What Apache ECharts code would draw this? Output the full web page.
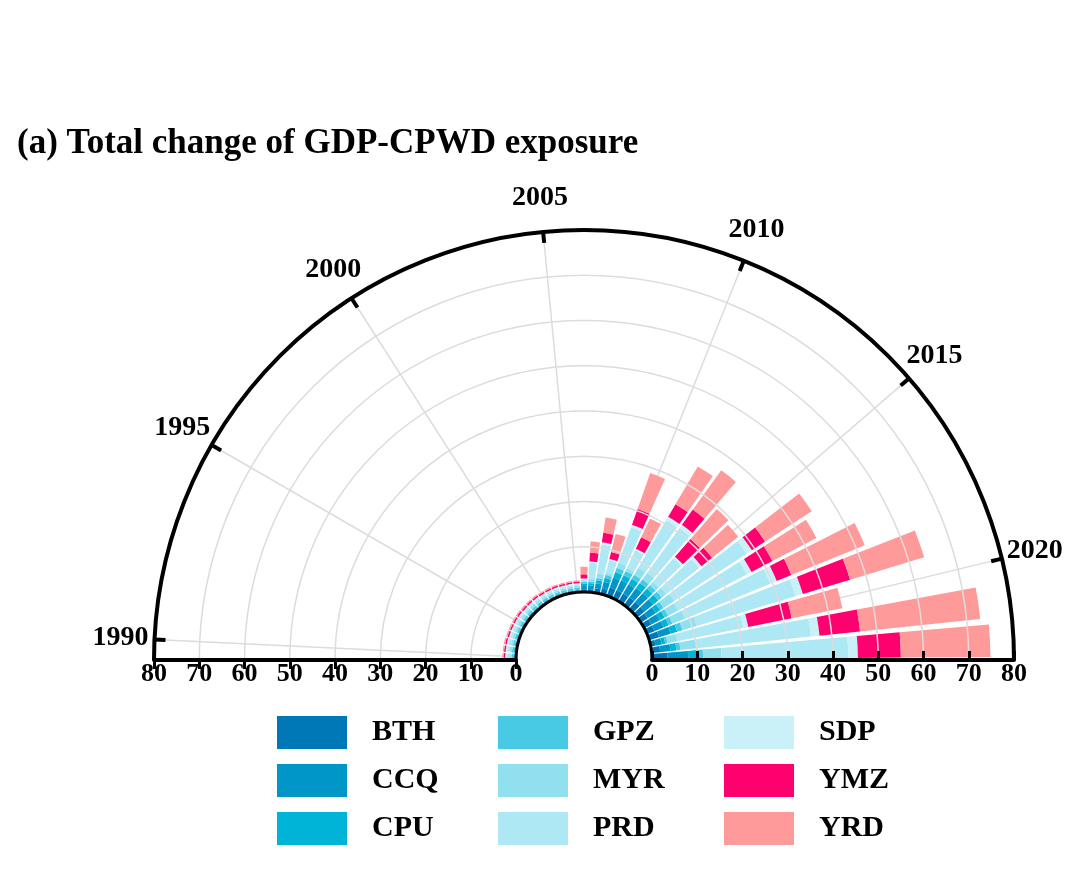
<!DOCTYPE html>
<html>
<head>
<meta charset="utf-8">
<script src="https://cdn.jsdelivr.net/npm/echarts@6/dist/echarts.min.js"></script>
<style>
  html,body{margin:0;padding:0;background:#fff;}
  #chart{width:1080px;height:891px;}
</style>
</head>
<body>
<div id="chart"></div>
<script>
// years on the angle axis, 1990 at the left end, 2022 at the right end
const years = ['1990','1991','1992','1993','1994','1995','1996','1997','1998','1999','2000',
  '2001','2002','2003','2004','2005','2006','2007','2008','2009','2010',
  '2011','2012','2013','2014','2015','2016','2017','2018','2019','2020','2021','2022'];
const yearTicks = ['1990','1995','2000','2005','2010','2015','2020'];
const radiusTicks = [0,10,20,30,40,50,60,70,80];

// stacked exposure per urban agglomeration (inner -> outer)
const BTH = [0.2,0.2,0.2,0.2,0.2,0.2,0.2,0.2,0.2,0.2,0.2,0.2,0.2,0.2,0.2,0.2,
  0.6,0.7,1.0,1.3,2.0,2.0,2.0,2.1,2.1,2.1,1.8,1.8,1.8,2.3,1.1,1.9,3.4];
const CCQ = [0.2,0.2,0.2,0.2,0.2,0.2,0.2,0.2,0.2,0.2,0.2,0.2,0.2,0.2,0.2,0.2,
  0.7,0.8,1.1,1.5,2.3,2.4,2.4,2.5,2.5,2.5,2.1,2.1,2.2,2.7,1.4,2.3,4.6];
const CPU = [0.2,0.2,0.2,0.2,0.2,0.2,0.2,0.2,0.2,0.2,0.2,0.2,0.2,0.2,0.2,0.2,
  0.5,0.5,0.7,0.9,1.3,1.3,1.4,1.4,1.4,1.4,1.2,1.2,1.2,1.5,0.8,1.3,2.0];
const GPZ = [0.4,0.4,0.4,0.4,0.4,0.4,0.4,0.4,0.4,0.4,0.4,0.4,0.4,0.4,0.4,0.4,
  0.4,0.4,0.5,0.7,1.0,1.0,1.0,1.0,1.0,1.0,0.9,0.9,0.9,1.2,0.5,0.9,1.3];
const MYR = [0.5,0.5,0.5,0.5,0.5,0.5,0.5,0.5,0.5,0.5,0.4,0.4,0.4,0.4,0.4,0.4,
  0.2,0.6,1.0,0.5,1.2,0.7,1.8,1.8,1.0,1.3,2.8,2.5,3.0,3.3,2.2,3.7,4.1];
const PRD = [0.6,0.6,0.6,0.5,0.5,0.5,0.5,0.4,0.4,0.4,0.4,0.4,0.4,0.3,0.3,0.3,
  0.4,3.5,6.5,2.8,8.3,4.3,12.2,12.2,6.9,9.2,19.1,17.1,20.4,22.8,14.9,25.3,28.0];
const SDP = [0.3,0.3,0.3,0.3,0.3,0.3,0.3,0.3,0.3,0.3,0.3,0.3,0.3,0.3,0.3,0.3,
  0.2,0.3,0.5,0.3,0.6,0.4,0.9,0.9,0.5,0.7,1.4,1.2,1.5,1.7,1.1,1.9,2.1];
const YMZ = [0.35,0.35,0.35,0.35,0.35,0.35,0.35,0.35,0.35,0.35,0.35,0.35,0.35,0.35,0.35,0.35,
  0.9,1.9,2.1,1.6,3.7,2.8,3.2,4.1,5.2,3.0,3.5,5.2,3.5,10.9,9.8,9.0,9.5];
const YRD = [0.3,0.3,0.3,0.3,0.3,0.3,0.3,0.3,0.3,0.3,0.3,0.3,0.3,0.3,0.3,0.3,
  1.7,2.5,3.4,4.1,8.4,4.6,9.7,10.7,8.8,7.4,12.3,11.0,17.5,17.1,11.4,26.7,19.8];

const seriesNames = ['BTH','CCQ','CPU','GPZ','MYR','PRD','SDP','YMZ','YRD'];
const seriesData = [BTH,CCQ,CPU,GPZ,MYR,PRD,SDP,YMZ,YRD];
const colors = ['#0077b6','#0096c7','#00b4d8','#48cae4','#90e0ef','#ade8f4','#caf0f8','#ff006e','#ff9a9a'];

(function(){
  const FONT = "'Liberation Serif','Times New Roman',serif";
  const CENTER = [584, 660];
  const R_IN = 68, R_OUT = 430;
  const LABEL_R = 87.5;           // year labels sit outside the arc (axis units)
  const GRID = '#dcdcdc';
  const LEGEND_X = [277, 498, 724];

  const chart = echarts.init(document.getElementById('chart'));

  const bars = seriesNames.map((n, i) => ({
    name: n, type: 'bar', coordinateSystem: 'polar', polarIndex: 0,
    stack: 'total', data: seriesData[i], barCategoryGap: '16%',
    itemStyle: {color: colors[i]}, z: 3
  }));

  const yearLabels = {
    type: 'custom', coordinateSystem: 'polar', polarIndex: 0, silent: true, z: 6,
    data: yearTicks.map(y => [LABEL_R, y]),
    renderItem: (params, api) => {
      const p = api.coord([api.value(0), api.value(1)]);
      return {
        type: 'text', x: p[0], y: p[1],
        style: {text: yearTicks[params.dataIndex], fill: '#000',
          font: `bold 28px ${FONT}`, align: 'center', verticalAlign: 'middle'}
      };
    }
  };

  const radiusAxisCommon = {
    type: 'value', min: radiusTicks[0], max: radiusTicks[radiusTicks.length-1],
    interval: radiusTicks[1] - radiusTicks[0],
    axisLine: {show: true, lineStyle: {color: '#000', width: 4}},
    axisLabel: {color: '#000', fontFamily: FONT, fontWeight: 'bold', fontSize: 26,
      align: 'center', verticalAlign: 'top'},
    z: 9
  };

  chart.setOption({
    backgroundColor: '#fff',
    animation: false,
    title: {
      text: '(a) Total change of GDP-CPWD exposure', left: 17, top: 126, padding: 0,
      textStyle: {fontFamily: FONT, fontWeight: 'bold', fontSize: 35, color: '#000'}
    },
    legend: LEGEND_X.map((x, k) => ({
      orient: 'vertical', left: x, top: 716, padding: 0,
      data: seriesNames.slice(k*3, k*3+3),
      icon: 'rect', itemWidth: 70, itemHeight: 33, itemGap: 15, selectedMode: false,
      textStyle: {fontFamily: FONT, fontWeight: 'bold', fontSize: 30, color: '#000', padding: [0,0,0,20]}
    })),
    polar: [
      {center: CENTER, radius: [R_IN, R_OUT]},   // bars + grid + left radius axis
      {center: CENTER, radius: R_OUT},           // outer black arc with year ticks
      {center: CENTER, radius: R_IN},            // inner black arc
      {center: CENTER, radius: [R_IN, R_OUT]}    // right radius axis
    ],
    angleAxis: [
      {
        polarIndex: 0, type: 'category', data: years, startAngle: 180, endAngle: 0,
        axisLine: {show: false},
        axisTick: {show: true, interval: 4, alignWithLabel: true, length: 0,
          lineStyle: {color: 'rgba(0,0,0,0)', width: 0}},
        axisLabel: {show: false},
        splitLine: {show: true, interval: 4, lineStyle: {color: GRID, width: 1.5}},
        z: 1
      },
      {
        polarIndex: 1, type: 'category', data: years, startAngle: 180, endAngle: 0,
        axisLine: {show: true, lineStyle: {color: '#000', width: 4}},
        axisTick: {show: true, inside: true, length: 11, interval: 4, alignWithLabel: true,
          lineStyle: {color: '#000', width: 4}},
        axisLabel: {show: false}, splitLine: {show: false},
        z: 20
      },
      {
        polarIndex: 2, type: 'value', min: 0, max: 1, startAngle: 180, endAngle: 0,
        axisLine: {show: true, lineStyle: {color: '#000', width: 3}},
        axisTick: {show: false}, axisLabel: {show: false}, splitLine: {show: false},
        z: 20
      },
      {polarIndex: 3, type: 'value', min: 0, max: 1, startAngle: 0, endAngle: -180, show: false}
    ],
    radiusAxis: [
      Object.assign({}, radiusAxisCommon, {
        polarIndex: 0,
        axisTick: {show: true, inside: true, length: 9, lineStyle: {color: '#000', width: 3}},
        axisLabel: Object.assign({}, radiusAxisCommon.axisLabel, {margin: 1}),
        splitLine: {show: true, lineStyle: {color: GRID, width: 1.5}}
      }),
      {polarIndex: 1, type: 'value', min: 0, max: 1, show: false},
      {polarIndex: 2, type: 'value', min: 0, max: 1, show: false},
      Object.assign({}, radiusAxisCommon, {
        polarIndex: 3,
        axisTick: {show: true, inside: false, length: 9, lineStyle: {color: '#000', width: 3}},
        axisLabel: Object.assign({}, radiusAxisCommon.axisLabel, {margin: -1}),
        splitLine: {show: false}
      })
    ],
    series: bars.concat([yearLabels])
  });
})();
</script>
</body>
</html>
